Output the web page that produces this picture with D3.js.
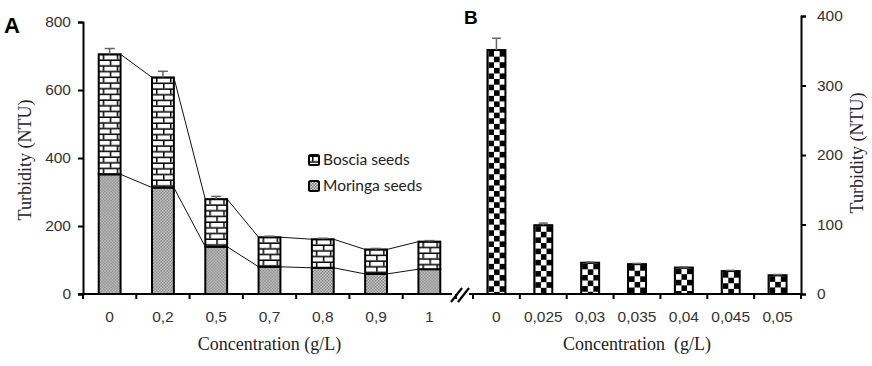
<!DOCTYPE html>
<html><head><meta charset="utf-8">
<script src="https://cdn.jsdelivr.net/npm/d3@7"></script>
<style>
html,body{margin:0;padding:0;background:#fff;}
svg{display:block;}
</style></head>
<body>
<svg id="chart" width="872" height="366"></svg>
<script>
// ---- Data ----
const catsA = ["0", "0,2", "0,5", "0,7", "0,8", "0,9", "1"];
const moringaA = [352, 313, 139, 80, 77, 59, 73];
const bosciaA = [353, 324, 140, 87, 84, 72, 81];
const errA = [17, 18, 8, 3, 3, 3, 3];
const ticksA = [0, 200, 400, 600, 800];

const catsB = ["0", "0,025", "0,03", "0,035", "0,04", "0,045", "0,05"];
const valuesB = [351, 99, 45, 43, 38, 33, 27];
const errB = [17, 3, 1, 1, 1, 1, 1];
const ticksB = [0, 100, 200, 300, 400];

const legendLabels = ["Boscia seeds", "Moringa seeds"];

// ---- Layout ----
const svg = d3.select("#chart");
const defs = svg.append("defs");
const y0 = 294;
const A = {x0: 83, x1: 456, top: 22};
const B = {x0: 473, x1: 801, top: 16};

const xA = d3.scaleBand().domain(catsA).range([A.x0, A.x1]).paddingInner(0.59).paddingOuter(0.295);
const yA = d3.scaleLinear().domain([0, 800]).range([y0, A.top]);
const xB = d3.scaleBand().domain(catsB).range([B.x0, B.x1]).paddingInner(0.616).paddingOuter(0.308);
const yB = d3.scaleLinear().domain([0, 400]).range([y0, B.top]);

// ---- Patterns ----
function brick(id, px, py) {
  const p = defs.append("pattern").attr("id", id).attr("patternUnits", "userSpaceOnUse")
    .attr("x", px).attr("y", py).attr("width", 14).attr("height", 11.4);
  p.append("rect").attr("width", 14).attr("height", 11.4).attr("fill", "#fff");
  p.append("rect").attr("x", 0).attr("y", 4.2).attr("width", 14).attr("height", 1.5).attr("fill", "#000");
  p.append("rect").attr("x", 0).attr("y", 9.9).attr("width", 14).attr("height", 1.5).attr("fill", "#000");
  p.append("rect").attr("x", 3).attr("y", 0).attr("width", 1.5).attr("height", 4.2).attr("fill", "#000");
  p.append("rect").attr("x", 10).attr("y", 5.7).attr("width", 1.5).attr("height", 4.2).attr("fill", "#000");
}
function dots(id, px, py) {
  const p = defs.append("pattern").attr("id", id).attr("patternUnits", "userSpaceOnUse")
    .attr("x", px).attr("y", py).attr("width", 3).attr("height", 3);
  p.append("rect").attr("width", 3).attr("height", 3).attr("fill", "#d8d8d8");
  p.append("rect").attr("x", 0).attr("y", 0).attr("width", 1.5).attr("height", 1.5).attr("fill", "#777");
  p.append("rect").attr("x", 1.5).attr("y", 1.5).attr("width", 1.5).attr("height", 1.5).attr("fill", "#777");
}
function checker(id, px, py) {
  const s = 5.6;
  const p = defs.append("pattern").attr("id", id).attr("patternUnits", "userSpaceOnUse")
    .attr("x", px).attr("y", py).attr("width", 2 * s).attr("height", 2 * s);
  p.append("rect").attr("width", 2 * s).attr("height", 2 * s).attr("fill", "#fff");
  p.append("rect").attr("x", 0).attr("y", 0).attr("width", s).attr("height", s).attr("fill", "#000");
  p.append("rect").attr("x", s).attr("y", s).attr("width", s).attr("height", s).attr("fill", "#000");
}

// ---- Chart A bars ----
const gA = svg.append("g");
catsA.forEach((c, i) => {
  const bx = xA(c), bw = xA.bandwidth();
  const mTop = yA(moringaA[i]);
  const tTop = yA(moringaA[i] + bosciaA[i]);
  dots("mor" + i, bx + 1, mTop);
  brick("bos" + i, bx + 1, tTop + 1);
  gA.append("rect").attr("x", bx).attr("y", mTop).attr("width", bw).attr("height", y0 - mTop)
    .attr("fill", "url(#mor" + i + ")").attr("stroke", "#000").attr("stroke-width", 2);
  gA.append("rect").attr("x", bx).attr("y", tTop).attr("width", bw).attr("height", mTop - tTop)
    .attr("fill", "url(#bos" + i + ")").attr("stroke", "#000").attr("stroke-width", 2);
});
// series lines
for (let i = 0; i < catsA.length - 1; i++) {
  const xr = xA(catsA[i]) + xA.bandwidth(), xl = xA(catsA[i + 1]);
  gA.append("line").attr("x1", xr).attr("x2", xl)
    .attr("y1", yA(moringaA[i] + bosciaA[i])).attr("y2", yA(moringaA[i + 1] + bosciaA[i + 1]))
    .attr("stroke", "#111").attr("stroke-width", 1);
  gA.append("line").attr("x1", xr).attr("x2", xl)
    .attr("y1", yA(moringaA[i])).attr("y2", yA(moringaA[i + 1]))
    .attr("stroke", "#111").attr("stroke-width", 1);
}
// error bars
catsA.forEach((c, i) => {
  const cx = xA(c) + xA.bandwidth() / 2;
  const t = moringaA[i] + bosciaA[i];
  gA.append("line").attr("x1", cx).attr("x2", cx).attr("y1", yA(t)).attr("y2", yA(t + errA[i]))
    .attr("stroke", "#666").attr("stroke-width", 1.5);
  gA.append("line").attr("x1", cx - 5).attr("x2", cx + 5).attr("y1", yA(t + errA[i])).attr("y2", yA(t + errA[i]))
    .attr("stroke", "#666").attr("stroke-width", 1.5);
});

// ---- Chart B bars ----
const gB = svg.append("g");
catsB.forEach((c, i) => {
  const bx = xB(c), bw = xB.bandwidth();
  const top = yB(valuesB[i]);
  checker("chk" + i, bx + 1, top + 1);
  gB.append("rect").attr("x", bx).attr("y", top).attr("width", bw).attr("height", y0 - top)
    .attr("fill", "url(#chk" + i + ")").attr("stroke", "#000").attr("stroke-width", 2);
  const cx = bx + bw / 2;
  gB.append("line").attr("x1", cx).attr("x2", cx).attr("y1", top).attr("y2", yB(valuesB[i] + errB[i]))
    .attr("stroke", "#666").attr("stroke-width", 1.5);
  gB.append("line").attr("x1", cx - 4.5).attr("x2", cx + 4.5).attr("y1", yB(valuesB[i] + errB[i])).attr("y2", yB(valuesB[i] + errB[i]))
    .attr("stroke", "#666").attr("stroke-width", 1.5);
});

// ---- Axes ----
const tickFont = "'Liberation Sans', Arial, sans-serif";
function styleAxis(g) {
  g.selectAll("path.domain").attr("stroke", "#000").attr("stroke-width", 2);
  g.selectAll(".tick line").attr("stroke", "#000").attr("stroke-width", 2);
  g.selectAll(".tick text").attr("font-family", tickFont).attr("font-size", 15.5).attr("fill", "#333");
}
// A y axis
const axYA = svg.append("g").attr("transform", `translate(${A.x0},0)`)
  .call(d3.axisLeft(yA).tickValues(ticksA).tickSize(5).tickSizeOuter(5).tickPadding(7));
styleAxis(axYA);
// B y axis (right)
const axYB = svg.append("g").attr("transform", `translate(${B.x1},0)`)
  .call(d3.axisRight(yB).tickValues(ticksB).tickSize(5).tickSizeOuter(5).tickPadding(11));
styleAxis(axYB);

// x axis lines with break
svg.append("line").attr("x1", A.x0 - 5).attr("x2", 452).attr("y1", y0).attr("y2", y0).attr("stroke", "#000").attr("stroke-width", 2);
svg.append("line").attr("x1", 469).attr("x2", B.x1).attr("y1", y0).attr("y2", y0).attr("stroke", "#000").attr("stroke-width", 2);
svg.append("line").attr("x1", 451).attr("x2", 462).attr("y1", 302).attr("y2", 288).attr("stroke", "#000").attr("stroke-width", 2.2);
svg.append("line").attr("x1", 458).attr("x2", 469).attr("y1", 302).attr("y2", 288).attr("stroke", "#000").attr("stroke-width", 2.2);

// x category ticks at boundaries
const stepA = xA.step(), stepB = xB.step();
const bndA = d3.range(catsA.length + 1).map(i => A.x0 + i * stepA);
const bndB = d3.range(catsB.length + 1).map(i => B.x0 + i * stepB);
svg.append("g").selectAll("line").data(bndA.concat(bndB)).join("line")
  .attr("x1", d => d).attr("x2", d => d).attr("y1", y0).attr("y2", y0 + 5)
  .attr("stroke", "#000").attr("stroke-width", 2);

// x labels
const axXA = svg.append("g").attr("transform", `translate(0,${y0})`)
  .call(d3.axisBottom(xA).tickSize(0).tickPadding(17));
axXA.select("path.domain").remove();
styleAxis(axXA);
const axXB = svg.append("g").attr("transform", `translate(0,${y0})`)
  .call(d3.axisBottom(xB).tickSize(0).tickPadding(17));
axXB.select("path.domain").remove();
styleAxis(axXB);

// ---- Titles ----
const serif = "'Liberation Serif', 'Times New Roman', serif";
svg.append("text").attr("x", (A.x0 + A.x1) / 2).attr("y", 350).attr("text-anchor", "middle")
  .attr("font-family", serif).attr("font-size", 18).attr("fill", "#222").text("Concentration (g/L)");
svg.append("text").attr("x", (B.x0 + B.x1) / 2).attr("y", 350).attr("text-anchor", "middle")
  .attr("font-family", serif).attr("font-size", 18).attr("fill", "#222").style("white-space", "pre")
  .text("Concentration  (g/L)");
svg.append("text").attr("transform", "translate(31,160) rotate(-90)").attr("text-anchor", "middle")
  .attr("font-family", serif).attr("font-size", 18).attr("fill", "#222").text("Turbidity (NTU)");
svg.append("text").attr("transform", "translate(863,153) rotate(-90)").attr("text-anchor", "middle")
  .attr("font-family", serif).attr("font-size", 18).attr("fill", "#222").text("Turbidity (NTU)");

svg.append("text").attr("x", 4).attr("y", 33).attr("font-family", tickFont).attr("font-weight", "bold")
  .attr("font-size", 22).attr("fill", "#000").text("A");
svg.append("text").attr("x", 464).attr("y", 24).attr("font-family", tickFont).attr("font-weight", "bold")
  .attr("font-size", 19).attr("fill", "#000").text("B");

// ---- Legend ----
brick("legBos", 309, 157);
dots("legMor", 309, 183);
const legFills = ["url(#legBos)", "url(#legMor)"];
const leg = svg.append("g");
legendLabels.forEach((l, i) => {
  const ly = 160 + i * 26;
  leg.append("rect").attr("x", 309).attr("y", ly - 5).attr("width", 10).attr("height", 10).attr("rx", 1.5)
    .attr("fill", legFills[i]).attr("stroke", "#000").attr("stroke-width", 2);
  leg.append("text").attr("x", 323).attr("y", ly).attr("dy", "0.35em")
    .attr("font-family", "Lato, 'Open Sans', sans-serif").attr("font-size", 15.5).attr("fill", "#222").text(l);
});
</script>
</body></html>
